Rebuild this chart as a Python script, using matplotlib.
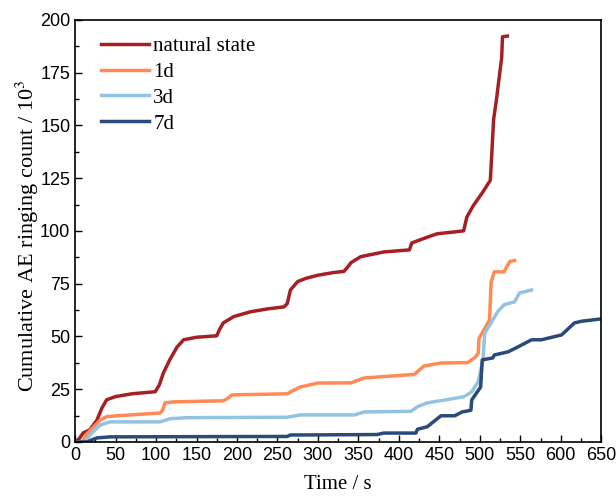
import matplotlib
matplotlib.use("Agg")
import matplotlib.pyplot as plt
from matplotlib.ticker import MultipleLocator

# natural state
t_nat = [0, 5, 10, 18, 27, 33, 39, 50, 70, 99, 104, 109, 117, 126, 134, 150, 175, 178, 183, 196,
         217, 237, 258, 262, 266, 275, 285, 300, 320, 332, 336, 341, 353, 381, 413, 416, 435, 447,
         480, 484, 492, 503, 513, 514, 515, 517, 521, 525, 527, 528, 534]
c_nat = [0, 1.5, 4.3, 5.7, 10.4, 16, 20, 21.5, 22.8, 23.8, 27, 32.7, 39, 45, 48.4, 49.6, 50.3, 53,
         56.4, 59.4, 61.7, 63, 64, 65.5, 72, 76, 77.5, 79, 80.3, 80.8, 82.5, 85, 87.8, 90, 91, 94.3,
         97, 98.6, 100, 106.6, 112, 118, 124, 131, 138, 152.6, 163.5, 176, 182, 192, 192.3]

# 1d
t_1d = [0, 9, 15, 25, 31, 39, 52, 105, 108, 111, 122, 183, 188, 194, 262, 270, 278, 300, 341, 357,
        419, 431, 452, 485, 494, 498, 499, 512, 514, 518, 530, 537, 543]
c_1d = [0, 0, 4, 8, 10.4, 12, 12.4, 13.7, 15, 18.5, 19, 19.5, 20.5, 22.3, 22.8, 24.5, 26, 27.9, 28,
        30.3, 32, 36, 37.4, 37.6, 40, 42, 49, 57.8, 75.9, 80.6, 80.6, 85.5, 86]

# 3d
t_3d = [0, 12, 20, 31, 43, 105, 117, 138, 262, 278, 345, 357, 415, 423, 435, 465, 481, 490, 498,
        504, 506, 514, 522, 530, 543, 549, 564]
c_3d = [0, 0, 4, 8, 9.5, 9.5, 11, 11.5, 11.7, 12.8, 12.8, 14.2, 14.5, 16.7, 18.5, 20.4, 21.5, 23.8,
        28.5, 38.9, 51.6, 56.4, 61.7, 65, 66.4, 70.6, 72]

# 7d
t_7d = [0, 15, 22, 27, 43, 150, 262, 266, 278, 373, 381, 421, 423, 435, 452, 469, 478, 489, 490,
        501, 503, 516, 518, 535, 547, 564, 576, 601, 617, 626, 650]
c_7d = [0, 0, 1.2, 1.9, 2.4, 2.5, 2.6, 3.3, 3.3, 3.5, 4.2, 4.2, 6, 7.2, 12.4, 12.4, 14.2, 15, 19.9,
        26, 38.9, 39.8, 41.2, 42.7, 45, 48.4, 48.4, 50.7, 56.4, 57.2, 58.3]

plt.rcParams['font.family'] = 'Liberation Sans'
plt.rcParams['mathtext.fontset'] = 'stix'

fig = plt.figure(figsize=(6.16, 4.96), dpi=100)
ax = fig.add_axes([0.122, 0.109, 0.854, 0.851])

ax.plot(t_nat, c_nat, color='#A52024', lw=2.5, label='natural state')
ax.plot(t_1d, c_1d, color='#FF8A55', lw=2.5, label='1d')
ax.plot(t_3d, c_3d, color='#93C3E0', lw=2.5, label='3d')
ax.plot(t_7d, c_7d, color='#2A4A78', lw=2.5, label='7d')

ax.set_xlim(0, 650)
ax.set_ylim(0, 200)
ax.xaxis.set_major_locator(MultipleLocator(50))
ax.xaxis.set_minor_locator(MultipleLocator(25))
ax.yaxis.set_major_locator(MultipleLocator(25))
ax.yaxis.set_minor_locator(MultipleLocator(12.5))
ax.tick_params(which='both', direction='in', top=False, right=False, labelsize=13)
ax.tick_params(which='major', length=5, width=1)
ax.tick_params(which='minor', length=3, width=1)
for s in ax.spines.values():
    s.set_linewidth(1.2)

ax.set_xlabel('Time / s', family='Liberation Serif', fontsize=15, labelpad=8)
ax.set_ylabel('Cumulative AE ringing count / 10$^3$', family='Liberation Serif', fontsize=16,
              labelpad=-1, y=0.488)

ax.legend(loc='upper left', frameon=False, prop={'family': 'Liberation Serif', 'size': 15},
          handlelength=2.3, handletextpad=0.2, labelspacing=0.3, borderaxespad=0.4,
          bbox_to_anchor=(0.018, 1.0))

fig.savefig('out.png', dpi=100)
